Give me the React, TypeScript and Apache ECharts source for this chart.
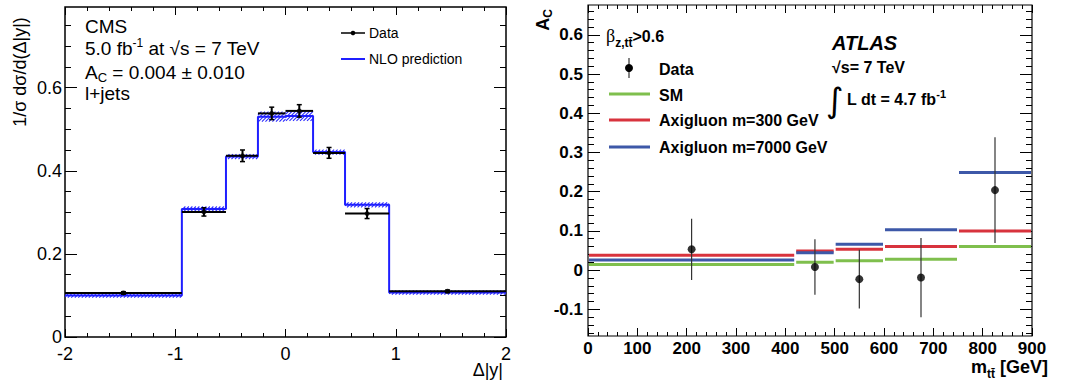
import React, { useEffect, useRef } from "react";
import * as echarts from "echarts";

const FONT = "'Liberation Sans', Arial, Helvetica, sans-serif";

// ---------- Left panel (CMS) ----------
const cmsBinEdges = [-2, -0.94, -0.54, -0.25, 0, 0.25, 0.54, 0.94, 2];
const cmsDataX = [-1.47, -0.74, -0.39, -0.125, 0.125, 0.395, 0.74, 1.47];
const cmsData = [0.106, 0.301, 0.436, 0.538, 0.544, 0.443, 0.297, 0.11];
const cmsDataErr = [0.003, 0.01, 0.014, 0.015, 0.015, 0.013, 0.012, 0.003];
const cmsNLO = [0.1, 0.308, 0.434, 0.53, 0.532, 0.445, 0.318, 0.107];
const cmsNLOErr = [0.005, 0.006, 0.006, 0.012, 0.012, 0.006, 0.006, 0.005];
const cmsXTicks = [-2, -1, 0, 1, 2];
const cmsYTicks = [0, 0.2, 0.4, 0.6];
const cmsXRange = [-2, 2];
const cmsYRange = [0, 0.794];

// ---------- Right panel (ATLAS) ----------
const atlasBinEdges = [0, 420, 500, 600, 750, 900];
const atlasDataX = [210, 460, 550, 675, 825];
const atlasData = [0.053, 0.008, -0.023, -0.019, 0.204];
const atlasDataErr = [0.078, 0.071, 0.075, 0.101, 0.135];
const atlasSM = [0.014, 0.02, 0.024, 0.028, 0.06];
const atlasAxi300 = [0.038, 0.049, 0.053, 0.06, 0.1];
const atlasAxi7000 = [0.026, 0.044, 0.066, 0.103, 0.249];
const atlasXTicks = [0, 100, 200, 300, 400, 500, 600, 700, 800, 900];
const atlasYTicks = [-0.1, 0, 0.1, 0.2, 0.3, 0.4, 0.5, 0.6];
const atlasXRange = [0, 900];
const atlasYRange = [-0.168, 0.676];

const round = (v: number) => Number(v.toFixed(4));
function minorTicks(min: number, max: number, step: number, majors: number[]) {
  const out: number[] = [];
  const k0 = Math.ceil(min / step - 1e-9);
  const k1 = Math.floor(max / step + 1e-9);
  for (let k = k0; k <= k1; k++) {
    const v = round(k * step);
    if (!majors.some((m) => Math.abs(m - v) < 1e-9)) out.push(v);
  }
  return out;
}

const cmsXMinor = minorTicks(-2, 2, 0.2, cmsXTicks);
const cmsYMinor = minorTicks(0, 0.794, 0.05, cmsYTicks);
const atlasXMinor = minorTicks(0, 900, 20, atlasXTicks);
const atlasYMinor = minorTicks(-0.168, 0.676, 0.02, atlasYTicks);

function axis(
  grid: number,
  pos: string,
  range: number[],
  ticks: number[],
  len: number,
  label: any
) {
  return {
    type: "value",
    gridIndex: grid,
    position: pos,
    min: range[0],
    max: range[1],
    axisLine: { show: false, onZero: false },
    splitLine: { show: false },
    axisTick: {
      show: true,
      inside: true,
      length: len,
      customValues: ticks,
      lineStyle: { color: "#000", width: 1 },
    },
    axisLabel: label
      ? { show: true, customValues: ticks, showMinLabel: true, showMaxLabel: true, ...label }
      : { show: false },
  };
}

const leftLabel = { color: "#000", fontFamily: FONT, fontSize: 18 };
const rightLabel = { color: "#000", fontFamily: FONT, fontSize: 17, fontWeight: "bold" };

const xAxes = [
  axis(0, "bottom", cmsXRange, cmsXTicks, 8, { ...leftLabel, margin: 8 }),
  axis(0, "bottom", cmsXRange, cmsXMinor, 4, null),
  axis(0, "top", cmsXRange, cmsXTicks, 8, null),
  axis(0, "top", cmsXRange, cmsXMinor, 4, null),
  axis(1, "bottom", atlasXRange, atlasXTicks, 8, { ...rightLabel, margin: 4 }),
  axis(1, "bottom", atlasXRange, atlasXMinor, 4, null),
  axis(1, "top", atlasXRange, atlasXTicks, 8, null),
  axis(1, "top", atlasXRange, atlasXMinor, 4, null),
];
const yAxes = [
  axis(0, "left", cmsYRange, cmsYTicks, 12, { ...leftLabel, margin: 3 }),
  axis(0, "left", cmsYRange, cmsYMinor, 6, null),
  axis(0, "right", cmsYRange, cmsYTicks, 12, null),
  axis(0, "right", cmsYRange, cmsYMinor, 6, null),
  axis(1, "left", atlasYRange, atlasYTicks, 12, { ...rightLabel, margin: 5 }),
  axis(1, "left", atlasYRange, atlasYMinor, 6, null),
  axis(1, "right", atlasYRange, atlasYTicks, 12, null),
  axis(1, "right", atlasYRange, atlasYMinor, 6, null),
];

const NLO_BLUE = "#1f1fff";
const SM_GREEN = "#7fbf4d";
const AXI_RED = "#d8333d";
const AXI_BLUE = "#3d58a8";

// hatched NLO band
const nloBand = {
  type: "custom",
  xAxisIndex: 0,
  yAxisIndex: 0,
  silent: true,
  z: 2,
  data: cmsNLO.map((v, i) => [cmsBinEdges[i], cmsBinEdges[i + 1], v, cmsNLOErr[i]]),
  encode: { x: [0, 1], y: 2 },
  renderItem: (params: any, api: any) => {
    const v = api.value(2);
    const e = api.value(3);
    const p0 = api.coord([api.value(0), v + e]);
    const p1 = api.coord([api.value(1), v - e]);
    const left = p0[0], right = p1[0], top = p0[1], bot = p1[1];
    const h = bot - top;
    const children: any[] = [];
    for (let xs = left - h; xs < right; xs += 3.5) {
      let ax = xs, ay = bot, bx = xs + h, by = top;
      if (ax < left) { ay = bot - (left - ax); ax = left; }
      if (bx > right) { by = top + (bx - right); bx = right; }
      if (bx <= ax) continue;
      children.push({
        type: "line",
        shape: { x1: ax, y1: ay, x2: bx, y2: by },
        style: { stroke: "#2a2aff", lineWidth: 1.1 },
      });
    }
    return { type: "group", children };
  },
};

const nloLine = {
  type: "line",
  xAxisIndex: 0,
  yAxisIndex: 0,
  step: "end",
  symbol: "none",
  silent: true,
  z: 3,
  data: cmsBinEdges.map((x, i) => [x, cmsNLO[Math.min(i, cmsNLO.length - 1)]]),
  lineStyle: { color: NLO_BLUE, width: 2 },
};

const cmsDataBars = {
  type: "custom",
  xAxisIndex: 0,
  yAxisIndex: 0,
  silent: true,
  z: 4,
  data: cmsData.map((v, i) => [cmsBinEdges[i], cmsBinEdges[i + 1], cmsDataX[i], v, cmsDataErr[i]]),
  encode: { x: [0, 1], y: 3 },
  renderItem: (params: any, api: any) => {
    const v = api.value(3);
    const e = api.value(4);
    const a = api.coord([api.value(0), v]);
    const b = api.coord([api.value(1), v]);
    const c = api.coord([api.value(2), v + e]);
    const d = api.coord([api.value(2), v - e]);
    const st = { stroke: "#000", lineWidth: 2 };
    return {
      type: "group",
      children: [
        { type: "line", shape: { x1: a[0], y1: a[1], x2: b[0], y2: b[1] }, style: st },
        { type: "line", shape: { x1: c[0], y1: c[1], x2: d[0], y2: d[1] }, style: st },
        { type: "line", shape: { x1: c[0] - 2.5, y1: c[1], x2: c[0] + 2.5, y2: c[1] }, style: { stroke: "#000", lineWidth: 1.5 } },
        { type: "line", shape: { x1: d[0] - 2.5, y1: d[1], x2: d[0] + 2.5, y2: d[1] }, style: { stroke: "#000", lineWidth: 1.5 } },
      ],
    };
  },
};

const cmsDataPts = {
  type: "scatter",
  xAxisIndex: 0,
  yAxisIndex: 0,
  silent: true,
  z: 5,
  symbol: "circle",
  symbolSize: 5,
  itemStyle: { color: "#000" },
  data: cmsData.map((v, i) => [cmsDataX[i], v]),
};

function modelSeries(values: number[], color: string, z: number) {
  return {
    type: "custom",
    xAxisIndex: 4,
    yAxisIndex: 4,
    silent: true,
    z,
    data: values.map((v, i) => [atlasBinEdges[i], atlasBinEdges[i + 1], v]),
    encode: { x: [0, 1], y: 2 },
    renderItem: (params: any, api: any) => {
      const a = api.coord([api.value(0), api.value(2)]);
      const b = api.coord([api.value(1), api.value(2)]);
      return {
        type: "line",
        shape: { x1: a[0] + 1, y1: a[1], x2: b[0] - 1, y2: b[1] },
        style: { stroke: color, lineWidth: 3 },
      };
    },
  };
}

const atlasErr = {
  type: "custom",
  xAxisIndex: 4,
  yAxisIndex: 4,
  silent: true,
  z: 6,
  data: atlasData.map((v, i) => [atlasDataX[i], v, atlasDataErr[i]]),
  encode: { x: 0, y: 1 },
  renderItem: (params: any, api: any) => {
    const x = api.value(0), v = api.value(1), e = api.value(2);
    const a = api.coord([x, v + e]);
    const b = api.coord([x, v - e]);
    return {
      type: "line",
      shape: { x1: a[0], y1: a[1], x2: b[0], y2: b[1] },
      style: { stroke: "#333", lineWidth: 1.2 },
    };
  },
};

const atlasPts = {
  type: "scatter",
  xAxisIndex: 4,
  yAxisIndex: 4,
  silent: true,
  z: 7,
  symbol: "circle",
  symbolSize: 8,
  itemStyle: { color: "#000" },
  data: atlasData.map((v, i) => [atlasDataX[i], v]),
};

const txt = (x: number, y: number, text: string, style: any, extra: any = {}) => ({
  type: "text",
  x,
  y,
  silent: true,
  style: { text, fill: "#000", fontFamily: FONT, align: "left", verticalAlign: "middle", ...style },
  ...extra,
});

const line = (x1: number, y1: number, x2: number, y2: number, stroke: string, lineWidth: number) => ({
  type: "line",
  silent: true,
  shape: { x1, y1, x2, y2 },
  style: { stroke, lineWidth },
});

const leftRich = {
  t: { fontSize: 19, fontFamily: FONT, fill: "#000" },
  sup: { fontSize: 12, fontFamily: FONT, fill: "#000", padding: [0, 0, 10, 0] },
  sub: { fontSize: 13, fontFamily: FONT, fill: "#000", padding: [10, 0, 0, 0] },
};
const rightRich = {
  t: { fontSize: 16, fontFamily: FONT, fontWeight: "bold", fill: "#000" },
  t18: { fontSize: 18, fontFamily: FONT, fontWeight: "bold", fill: "#000" },
  b: { fontSize: 18, fontFamily: "'Liberation Serif', 'DejaVu Serif', serif", fill: "#000" },
  sup: { fontSize: 11, fontFamily: FONT, fontWeight: "bold", fill: "#000", padding: [0, 0, 10, 0] },
  sub: { fontSize: 12, fontFamily: FONT, fontWeight: "bold", fill: "#000", padding: [14, 0, 0, 0] },
  subA: { fontSize: 12, fontFamily: FONT, fontWeight: "bold", fill: "#000", padding: [10, 0, 0, 0] },
};

const graphics: any[] = [
  // left panel
  txt(20, 72, "1/σ dσ/d(Δ|y|)", { fontSize: 18, align: "center" }, { rotation: Math.PI / 2 }),
  txt(503, 370, "Δ|y|", { fontSize: 18, align: "right" }),
  txt(85, 26, "CMS", { fontSize: 19 }),
  txt(85, 48, "{t|5.0 fb}{sup|-1}{t| at √s = 7 TeV}", { rich: leftRich }),
  txt(85, 72, "{t|A}{sub|C}{t| = 0.004 ± 0.010}", { rich: leftRich }),
  txt(85, 93, "l+jets", { fontSize: 19 }),
  line(341, 33, 365, 33, "#000", 1.5),
  { type: "circle", silent: true, shape: { cx: 353, cy: 33, r: 2.3 }, style: { fill: "#000" } },
  txt(369, 33, "Data", { fontSize: 14 }),
  line(341, 59, 365, 59, NLO_BLUE, 2),
  txt(369, 59, "NLO prediction", { fontSize: 14 }),
  // right panel
  txt(543, 20, "{t18|A}{subA|C}", { rich: rightRich, align: "center" }, { rotation: Math.PI / 2 }),
  txt(1048, 367, "{t18|m}{sub|tt̄}{t18| [GeV]}", { rich: rightRich, align: "right" }),
  txt(606, 36, "{b|β}{sub|z,tt̄}{t|>0.6}", { rich: rightRich }),
  line(629, 58, 629, 78, "#333", 1.2),
  { type: "circle", silent: true, shape: { cx: 629, cy: 68, r: 4 }, style: { fill: "#000" } },
  txt(659, 69, "{t|Data}", { rich: rightRich }),
  line(609, 94, 650, 94, SM_GREEN, 3),
  txt(659, 95, "{t|SM}", { rich: rightRich }),
  line(609, 120, 650, 120, AXI_RED, 3),
  txt(659, 120, "{t|Axigluon m=300 GeV}", { rich: rightRich }),
  line(609, 147, 650, 147, AXI_BLUE, 3),
  txt(659, 147, "{t|Axigluon m=7000 GeV}", { rich: rightRich }),
  txt(832, 43, "ATLAS", { fontSize: 20, fontWeight: "bold", fontStyle: "italic" }),
  txt(832, 67, "{t|√s= 7 TeV}", { rich: rightRich }),
  txt(826, 100, "∫", { fontSize: 34, fontFamily: "'DejaVu Sans', sans-serif" }),
  txt(847, 99, "{t|L dt = 4.7 fb}{sup|-1}", { rich: rightRich }),
];

const option: any = {
  animation: false,
  backgroundColor: "#fff",
  grid: [
    { left: 65, top: 7, width: 441, height: 330, show: true, borderColor: "#000", borderWidth: 1.5, backgroundColor: "transparent", containLabel: false },
    { left: 588, top: 5, width: 444, height: 331, show: true, borderColor: "#000", borderWidth: 1.2, backgroundColor: "transparent", containLabel: false },
  ],
  xAxis: xAxes,
  yAxis: yAxes,
  series: [
    nloBand,
    nloLine,
    cmsDataBars,
    cmsDataPts,
    modelSeries(atlasSM, SM_GREEN, 3),
    modelSeries(atlasAxi300, AXI_RED, 4),
    modelSeries(atlasAxi7000, AXI_BLUE, 5),
    atlasErr,
    atlasPts,
  ],
  graphic: graphics,
};

export default function App() {
  const ref = useRef<HTMLDivElement>(null);
  useEffect(() => {
    document.body.style.margin = "0";
    const chart = echarts.init(ref.current!, null, { renderer: "svg" });
    chart.setOption(option);
    return () => chart.dispose();
  }, []);
  return <div ref={ref} style={{ width: 1072, height: 385 }} />;
}
